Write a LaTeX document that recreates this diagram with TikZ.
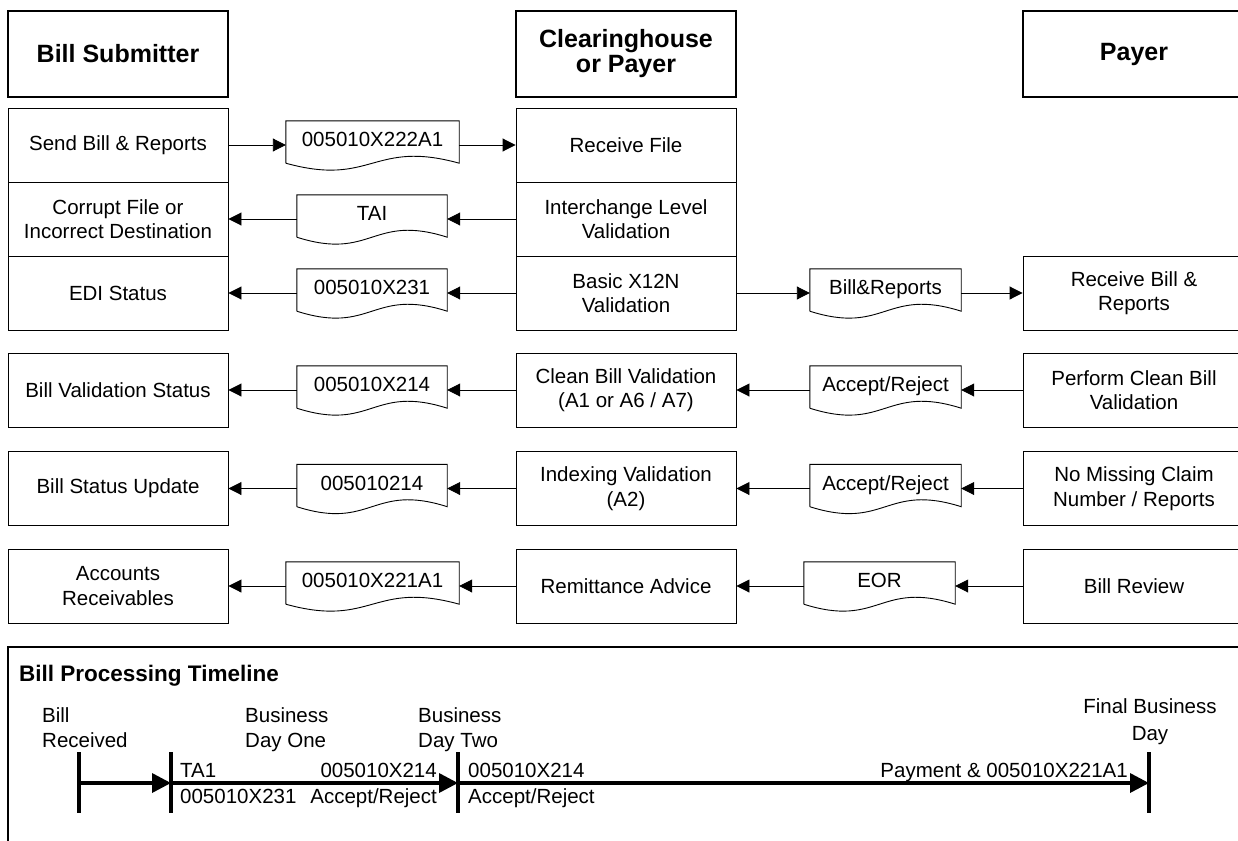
\documentclass[tikz,border=0pt]{standalone}
\usepackage{fontspec}
\setmainfont{Liberation Sans}
\usetikzlibrary{arrows.meta,calc}
\newcommand\docoutline[1]{%
  \draw[docline] (#1.south west) -- (#1.north west) -- (#1.north east) -- (#1.south east)
    .. controls ($(#1.south)+(0,-24)$) and ($(#1.south)+(0,24)$) .. (#1.south west);}
\begin{document}
\begin{tikzpicture}[x=1pt,y=-1pt,
  every node/.style={font=\fontsize{20.5}{24.5}\selectfont},
  hdr/.style={draw, line width=1.6pt, minimum width=220pt, minimum height=86pt,
    font=\bfseries\fontsize{25}{25}\selectfont, align=center, inner sep=0pt},
  box/.style={draw, line width=0.9pt, minimum width=220pt, minimum height=74pt,
    align=center, inner sep=0pt},
  doc/.style={minimum height=42pt, inner sep=0pt, text height=15.5pt, text depth=6pt},
  docline/.style={line width=0.9pt},
  flow/.style={-{Triangle[length=13pt,width=13pt]}, line width=0.9pt},
  tl/.style={-{Triangle[length=19pt,width=19pt]}, line width=3.5pt},
  tick/.style={line width=3.5pt},
  lbl/.style={inner sep=0pt, anchor=base west},
  lblr/.style={inner sep=0pt, anchor=base east},
  lblc/.style={inner sep=0pt, anchor=base},
]
\useasboundingbox (0,0) rectangle (1238,840);
\clip (0,0) rectangle (1238,840);

% headers
\node[hdr] (hL) at (118,54) {Bill Submitter};
\node[hdr] (hM) at (626,54) {Clearinghouse\\or Payer};
\node[hdr, minimum width=222pt] (hR) at (1134,54) {Payer};

% left column
\node[box] (sb)  at (118,145)   {Send Bill \& Reports};
\node[box] (cf)  at (118,219)   {Corrupt File or\\Incorrect Destination};
\node[box] (edi) at (118,293)   {EDI Status};
\node[box] (bvs) at (118,390)   {Bill Validation Status};
\node[box] (bsu) at (118,488.5) {Bill Status Update};
\node[box] (acr) at (118,586)   {Accounts\\Receivables};

% middle column
\node[box] (rf)  at (626,145)   {Receive File};
\node[box] (ilv) at (626,219)   {Interchange Level\\Validation};
\node[box] (bx)  at (626,293)   {Basic X12N\\Validation};
\node[box] (cbv) at (626,390)   {Clean Bill Validation\\(A1 or A6 / A7)};
\node[box] (iv)  at (626,488.5) {Indexing Validation\\(A2)};
\node[box] (ra)  at (626,586)   {Remittance Advice};

% right column
\node[box, minimum width=222pt] (rbr) at (1134,293)   {Receive Bill \&\\Reports};
\node[box, minimum width=222pt] (pcb) at (1134,390)   {Perform Clean Bill\\Validation};
\node[box, minimum width=222pt] (nmc) at (1134,488.5) {No Missing Claim\\Number / Reports};
\node[box, minimum width=222pt] (brv) at (1134,586)   {Bill Review};

% documents
\node[doc, minimum width=173pt] (d1)  at (372.5,142)   {005010X222A1};
\node[doc, minimum width=150pt] (d2)  at (372,216)     {TAI};
\node[doc, minimum width=150pt] (d3)  at (372,290)     {005010X231};
\node[doc, minimum width=151pt] (d3r) at (885.5,290)   {Bill\&Reports};
\node[doc, minimum width=150pt] (d4)  at (372,387)     {005010X214};
\node[doc, minimum width=151pt] (d4r) at (885.5,387)   {Accept/Reject};
\node[doc, minimum width=150pt] (d5)  at (372,485.5)   {005010214};
\node[doc, minimum width=151pt] (d5r) at (885.5,485.5) {Accept/Reject};
\node[doc, minimum width=173pt] (d6)  at (372.5,583)   {005010X221A1};
\node[doc, minimum width=151pt] (d6r) at (879.5,583)   {EOR};
\foreach \d in {d1,d2,d3,d3r,d4,d4r,d5,d5r,d6,d6r} {\docoutline{\d}}

% connectors
\draw[flow] (sb.east) -- (sb.east -| d1.west);
\draw[flow] (d1.east |- rf.west) -- (rf.west);
\draw[flow] (ilv.west) -- (ilv.west -| d2.east);
\draw[flow] (d2.west |- cf.east) -- (cf.east);
\draw[flow] (bx.west) -- (bx.west -| d3.east);
\draw[flow] (d3.west |- edi.east) -- (edi.east);
\draw[flow] (bx.east) -- (bx.east -| d3r.west);
\draw[flow] (d3r.east |- rbr.west) -- (rbr.west);
\draw[flow] (pcb.west) -- (pcb.west -| d4r.east);
\draw[flow] (d4r.west |- cbv.east) -- (cbv.east);
\draw[flow] (cbv.west) -- (cbv.west -| d4.east);
\draw[flow] (d4.west |- bvs.east) -- (bvs.east);
\draw[flow] (nmc.west) -- (nmc.west -| d5r.east);
\draw[flow] (d5r.west |- iv.east) -- (iv.east);
\draw[flow] (iv.west) -- (iv.west -| d5.east);
\draw[flow] (d5.west |- bsu.east) -- (bsu.east);
\draw[flow] (brv.west) -- (brv.west -| d6r.east);
\draw[flow] (d6r.west |- ra.east) -- (ra.east);
\draw[flow] (ra.west) -- (ra.west -| d6.east);
\draw[flow] (d6.west |- acr.east) -- (acr.east);

% timeline
\draw[line width=1.5pt] (8,647) rectangle (1260,880);
\node[lbl, font=\bfseries\fontsize{22.5}{24}\selectfont] (ttl) at (19,681) {Bill Processing Timeline};
\coordinate (t1) at (79,783);
\coordinate (t2) at (171,783);
\coordinate (t3) at (458,783);
\coordinate (t4) at (1149,783);
\foreach \t in {t1,t2,t3,t4} {\draw[tick] ($(\t)+(0,-31)$) -- ($(\t)+(0,30)$);}
\draw[tl] (t1) -- (t2);
\draw[tl] (t2) -- (t3);
\draw[tl] (t3) -- (t4);

\node[lbl] (br1) at (42,722) {Bill};
\node[lbl] (br2) at (42,747) {Received};
\node[lbl] (bo1) at (245,722) {Business};
\node[lbl] (bo2) at (245,747) {Day One};
\node[lbl] (bt1) at (418,722) {Business};
\node[lbl] (bt2) at (418,747) {Day Two};
\node[lblc] (fb1) at (1150,713) {Final Business};
\node[lblc] (fb2) at (1150,740) {Day};
\node[lbl] (a1) at (180,777) {TA1};
\node[lbl] (a2) at (180,803) {005010X231};
\node[lblr] (b1) at (437,777) {005010X214};
\node[lblr] (b2) at (437,803) {Accept/Reject};
\node[lbl] (c1) at (468,777) {005010X214};
\node[lbl] (c2) at (468,803) {Accept/Reject};
\node[lblr] (p1) at (1128,777) {Payment \& 005010X221A1};
\end{tikzpicture}
\end{document}
